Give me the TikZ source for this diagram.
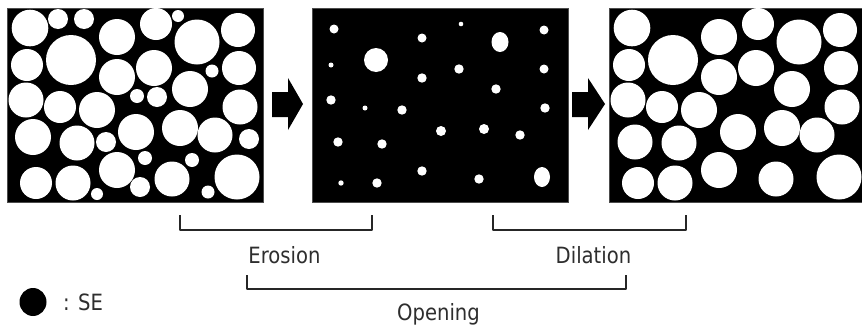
\documentclass[tikz,border=0pt]{standalone}
\usepackage{fontspec}
\setmainfont{DejaVu Sans}
\newcommand{\tallify}[1]{\scalebox{0.98}[1.12]{#1}}
\begin{document}
\begin{tikzpicture}[x=1pt,y=-1pt,
  panel/.style={fill=black, draw=black!70, line width=0.6pt, inner sep=0pt, minimum width=256pt, minimum height=194pt, anchor=north west},
  blob/.style={fill=white},
  bracketline/.style={line width=2.6pt, draw=black!85, line join=round},
  lbl/.style={font=\fontsize{20}{24}\selectfont, text=black!82, inner sep=0pt, anchor=base},
  bigarrow/.style={fill=black}]
\useasboundingbox (0,0) rectangle (862,327);
\clip (0,0) rectangle (862,327);
\fill[white] (0,0) rectangle (862,327);

% panels
\node[panel] (p1) at (7,8) {};
\node[panel] (p2) at (312,8) {};
\node[panel] (p3) at (609,8) {};

% panel 1: original image
\begin{scope}
\clip (p1.north west) rectangle (p1.south east);
\foreach \cx/\cy/\r in {30/28/18.3, 58/19/10, 84/19/10, 117/37/18, 156/24/16, 178/16/6, 197/42/22.5, 238/30/17,
  27/65/16, 71/60/25, 117/77/18, 154/68/18, 212/71/6.5, 239/68/17, 190/89/18,
  26/100/17.5, 60/107/16, 97/110/18, 137/96/7, 157/97/10, 240/107/17.5,
  33/137/18, 77/143/17.5, 106/142/10, 136/132/18, 180/128/18, 215/135/17.5, 249/139/10,
  36/183/16, 73/183/17.5, 117/170/18, 145/158/7, 140/187/10, 97/194/6, 172/179/17.5, 192/160/7, 208/192/6.5, 237/177/22.5}
  \fill[blob] (\cx,\cy) circle[radius=\r];
\end{scope}

% panel 2: after erosion
\begin{scope}
\clip (p2.north west) rectangle (p2.south east);
\foreach \cx/\cy/\r in {334/29/4.5, 461/24/2.3, 422/38/4.5, 544/30/4.5, 376/60/12,
  331/65/2.5, 459/69/4.7, 422/78/4.7, 544/69/4.5, 496/89/4.7,
  331/100/4.7, 365/108/2.5, 402/110/4.7, 545/108/4.7,
  441/131/5, 484/129/5, 520/135/4.7, 338/142/4.7, 382/144/4.7,
  422/171/4.7, 479/179/4.7, 341/183/2.7, 377/183/4.7}
  \fill[blob] (\cx,\cy) circle[radius=\r];
\fill[blob] (500,42) ellipse[x radius=8.5, y radius=10];
\fill[blob] (542,177) ellipse[x radius=8, y radius=10];
\end{scope}

% panel 3: after dilation
\begin{scope}
\clip (p3.north west) rectangle (p3.south east);
\foreach \cx/\cy/\r in {30/28/18.3, 117/37/18, 156/24/16, 197/42/22.5, 238/30/17,
  27/65/16, 71/60/25, 117/77/18, 154/68/18, 239/68/17, 190/89/18,
  26/100/17.5, 60/107/16, 97/110/18, 240/107/17.5,
  33/142/17.5, 77/143/17.5, 136/132/18, 180/128/18, 215/135/17.5,
  36/183/16, 73/183/17.5, 117/170/18, 174/179/17.5, 237/177/22.5}
  \fill[blob] ({\cx+602},\cy) circle[radius=\r];
\end{scope}

% block arrows
\fill[bigarrow] (272,92) -- (288,92) -- (288,78) -- (303,104) -- (288,130) -- (288,117) -- (272,117) -- cycle;
\fill[bigarrow] (572,92) -- (588,92) -- (588,78) -- (605,104) -- (588,130) -- (588,117) -- (572,117) -- cycle;

% brackets
\draw[bracketline] (180,215) -- (180,230) -- (372,230) -- (372,215);
\draw[bracketline] (493,215) -- (493,230) -- (686,230) -- (686,215);
\draw[bracketline] (247,275) -- (247,289) -- (626,289) -- (626,275);

% labels
\node[lbl] (erosion) at (284.5,263) {\tallify{Erosion}};
\node[lbl] (dilation) at (593.5,263) {\tallify{Dilation}};
\node[lbl] (opening) at (438.5,320) {\tallify{Opening}};

% structuring element legend
\fill[black] (33,302) ellipse[x radius=13.5, y radius=14];
\node[lbl, anchor=base west] (se) at (63,310) {\tallify{: SE}};
\end{tikzpicture}
\end{document}
